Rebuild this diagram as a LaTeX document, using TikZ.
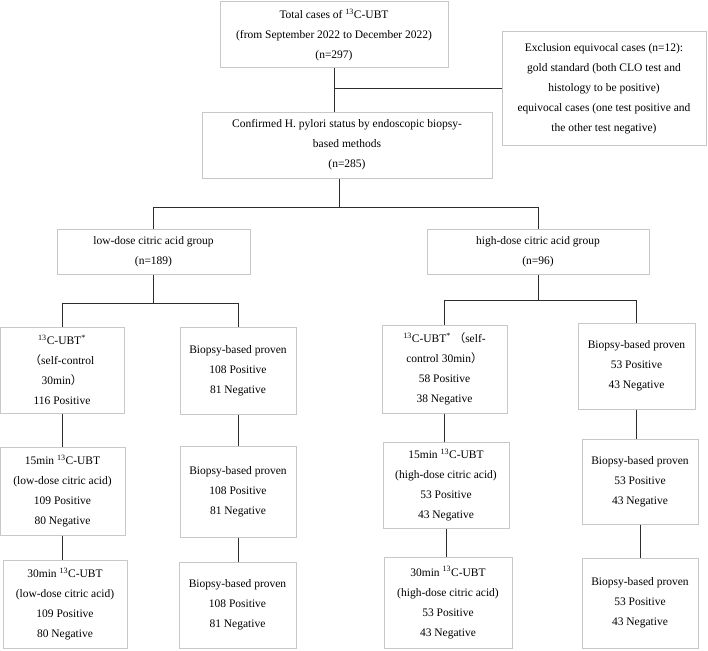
\documentclass[tikz,border=0pt]{standalone}
\usepackage{fontspec}
\setmainfont{Liberation Serif}
\newfontfamily\cjk{Noto Sans CJK SC}
\usetikzlibrary{calc}
\definecolor{mygray}{RGB}{200, 200, 200}
\definecolor{mydark}{RGB}{45, 45, 45}
\tikzset{box/.style={draw = mygray, line width = 1pt, align = center, inner sep = 0pt, font = \fontsize{11.5}{20}\selectfont},
link/.style={draw = mydark, line width = 0.9pt}}
\newcommand{\ubt}{\textsuperscript{13}C-UBT}

\begin{document}
\begin{tikzpicture}[x = 1pt, y = -1pt]
\useasboundingbox (0, 0) rectangle (708, 650);

\node[box, minimum width = 228pt, minimum height = 66pt] (total) at (334, 35) {Total cases of \ubt\\(from September 2022 to December 2022)\\(n=297)};
\node[box, minimum width = 204pt, minimum height = 113pt] (excl) at (604, 88.5) {Exclusion equivocal cases (n=12):\\gold standard (both CLO test and\\histology to be positive)\\equivocal cases (one test positive and\\the other test negative)};
\node[box, minimum width = 290pt, minimum height = 66pt] (confirmed) at (347, 145) {Confirmed H. pylori status by endoscopic biopsy-\\based methods\\(n=285)};

\node[box, minimum width = 193pt, minimum height = 45pt] (lowgrp) at (153.5, 251.5) {low-dose citric acid group\\(n=189)};
\node[box, minimum width = 222pt, minimum height = 45pt] (highgrp) at (538, 251.5) {high-dose citric acid group\\(n=96)};

\node[box, minimum width = 124pt, minimum height = 86pt] (lowubt) at (62, 370) {\ubt\textsuperscript{*}\\{\cjk （}self-control\\30min{\cjk ）}\\116 Positive};
\node[box, minimum width = 116pt, minimum height = 87pt] (lowbx1) at (238, 370.5) {Biopsy-based proven\\108 Positive\\81 Negative};
\node[box, minimum width = 125pt, minimum height = 88pt] (low15) at (62.5, 491) {15min \ubt\\(low-dose citric acid)\\109 Positive\\80 Negative};
\node[box, minimum width = 116pt, minimum height = 91pt] (lowbx2) at (238, 491.5) {Biopsy-based proven\\108 Positive\\81 Negative};
\node[box, minimum width = 124pt, minimum height = 88pt] (low30) at (65, 604) {30min \ubt\\(low-dose citric acid)\\109 Positive\\80 Negative};
\node[box, minimum width = 117pt, minimum height = 86pt] (lowbx3) at (237.5, 605) {Biopsy-based proven\\108 Positive\\81 Negative};

\node[box, minimum width = 125pt, minimum height = 88pt] (highubt) at (444.5, 369) {\ubt\textsuperscript{*} {\cjk （}self-\\control 30min{\cjk ）}\\58 Positive\\38 Negative};
\node[box, minimum width = 117pt, minimum height = 86pt] (highbx1) at (636.5, 366) {Biopsy-based proven\\53 Positive\\43 Negative};
\node[box, minimum width = 126pt, minimum height = 86pt] (high15) at (446, 485) {15min \ubt\\(high-dose citric acid)\\53 Positive\\43 Negative};
\node[box, minimum width = 116pt, minimum height = 85pt] (highbx2) at (640, 481.5) {Biopsy-based proven\\53 Positive\\43 Negative};
\node[box, minimum width = 128pt, minimum height = 91pt] (high30) at (448, 602.5) {30min \ubt\\(high-dose citric acid)\\53 Positive\\43 Negative};
\node[box, minimum width = 116pt, minimum height = 90pt] (highbx3) at (640, 603) {Biopsy-based proven\\53 Positive\\43 Negative};

\draw[link] (total.south) -- (total.south |- confirmed.north);
\draw[link] (total.south |- excl.west) -- (excl.west);
\draw[link] ([xshift = -8pt]confirmed.south) -- ++(0, 29) coordinate (split);
\draw[link] (lowgrp.north) |- (split) -| (highgrp.north);

\draw[link] (lowgrp.south) -- ++(0, 29) coordinate (lowsplit);
\draw[link] (lowubt.north) |- (lowsplit) -| (lowbx1.north);
\draw[link] (highgrp.south) -- ++(0, 26) coordinate (highsplit);
\draw[link] (highubt.north) |- (highsplit) -| (highbx1.north);

\draw[link] (lowubt.south) -- (lowubt.south |- low15.north);
\draw[link] (low15.south) -- (low15.south |- low30.north);
\draw[link] (lowbx1.south) -- (lowbx1.south |- lowbx2.north);
\draw[link] (lowbx2.south) -- (lowbx2.south |- lowbx3.north);
\draw[link] (highubt.south) -- (highubt.south |- high15.north);
\draw[link] (high15.south) -- (high15.south |- high30.north);
\draw[link] (highbx1.south) -- (highbx1.south |- highbx2.north);
\draw[link] (highbx2.south) -- (highbx2.south |- highbx3.north);
\end{tikzpicture}
\end{document}
